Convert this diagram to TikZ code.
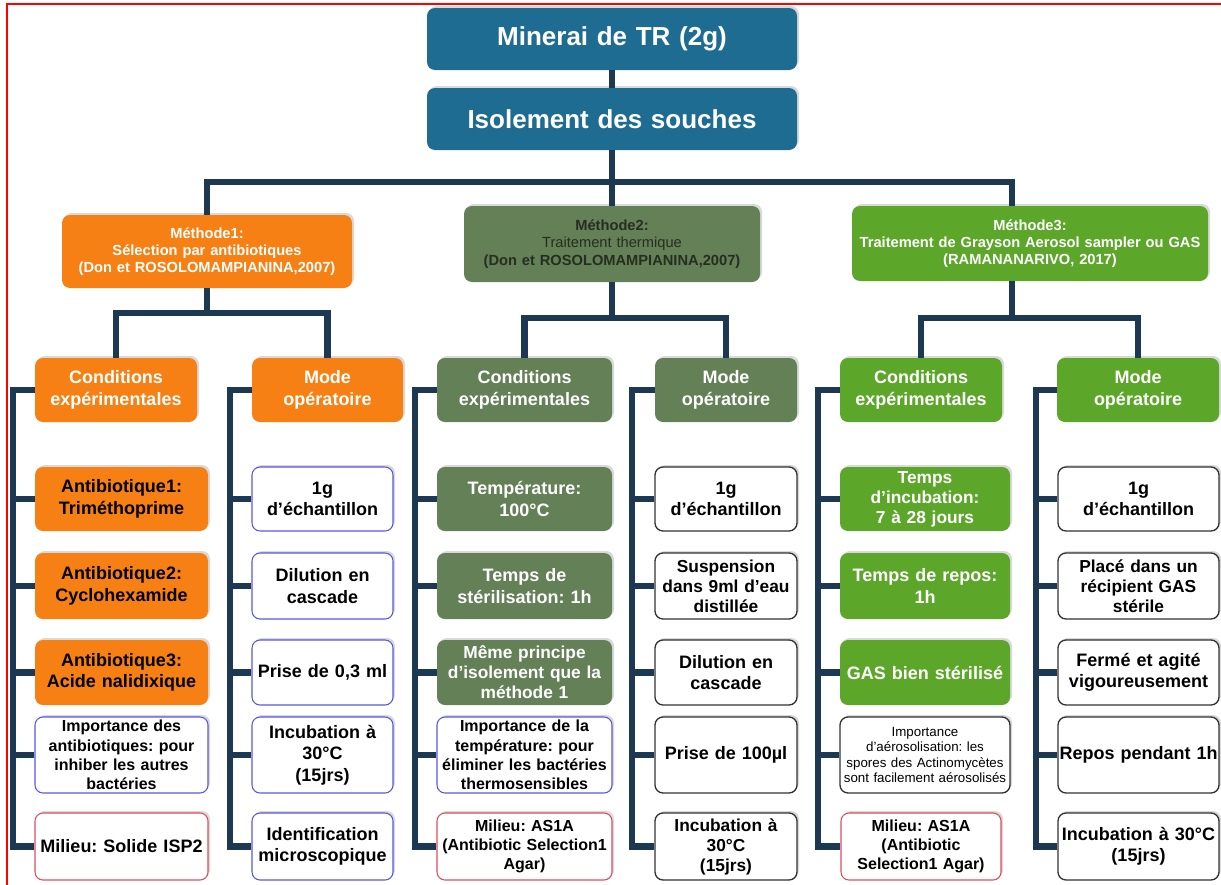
\documentclass[tikz,border=0pt]{standalone}
\usepackage{fontspec}
\setmainfont{Liberation Sans}
\usetikzlibrary{shadows}
\frenchspacing

\definecolor{trblue}{RGB}{31,108,146}
\definecolor{methorange}{RGB}{246,128,20}
\definecolor{sage}{RGB}{99,128,86}
\definecolor{leaf}{RGB}{92,166,42}
\definecolor{navy}{RGB}{29,56,82}
\definecolor{lineblue}{RGB}{88,88,228}
\definecolor{linered}{RGB}{222,78,92}
\definecolor{linegray}{RGB}{50,50,50}
\definecolor{darktext}{RGB}{38,46,34}

\begin{document}
\begin{tikzpicture}[x=0.75pt,y=0.75pt,yscale=-1,xscale=1,
  conn/.style={draw=navy,line width=5pt},
  cell/.style={rounded corners=6pt,align=center,inner xsep=1pt,inner ysep=1pt,
    minimum height=48pt,font=\fontsize{13.5}{16}\selectfont\bfseries,
    drop shadow={opacity=0.3,shadow xshift=1.5pt,shadow yshift=1.5pt}},
  titlebox/.style={cell,fill=trblue,text=white,text width=275.5pt,minimum height=46.5pt,
    font=\fontsize{19.5}{23}\selectfont\bfseries},
  methfont/.style={font=\fontsize{11}{13}\selectfont\bfseries},
  smallfont/.style={font=\fontsize{12}{14.5}\selectfont\bfseries},
  orgbox/.style={cell,fill=methorange},
  sagebox/.style={cell,fill=sage,text=white},
  leafbox/.style={cell,fill=leaf,text=white},
  bluebox/.style={cell,fill=white,draw=lineblue,line width=0.8pt},
  redbox/.style={cell,fill=white,draw=linered,line width=0.8pt},
  graybox/.style={cell,fill=white,draw=linegray,line width=1pt},
  ra/.style={minimum height=48pt},
  rb/.style={minimum height=49.5pt},
  rc/.style={minimum height=48.75pt},
  rd/.style={minimum height=57pt},
  re/.style={minimum height=50.25pt}
]
\useasboundingbox (0,0) rectangle (1221,885);

%Straight Lines: frame
\draw [red,line width=1.5pt] (7,885) -- (7,4) -- (1221,4) ;

% Text Node
\node [titlebox] (ore) at (612,39) {Minerai de TR (2g)};
% Text Node
\node [titlebox] (iso) at (612,119) {Isolement des souches};

% Text Node
\node [orgbox,methfont,text=white,text width=215.5pt,minimum height=54.75pt] (m1) at (207,251.5)
  {Méthode1:\\Sélection par antibiotiques\\(Don et ROSOLOMAMPIANINA,2007)};
% Text Node
\node [sagebox,methfont,text=darktext,text width=220pt,minimum height=57pt] (m2) at (612,244)
  {Méthode2:\\{\mdseries Traitement thermique}\\(Don et ROSOLOMAMPIANINA,2007)};
% Text Node
\node [leafbox,methfont,text width=265pt,minimum height=56.25pt] (m3) at (1030,243.5)
  {Méthode3:\\Traitement de Grayson Aerosol sampler ou GAS\\(RAMANANARIVO, 2017)};

% Text Node
\node [orgbox,text=white,text width=119.5pt] (c1) at (116,390) {Conditions\\expérimentales};
\node [orgbox,text=white,text width=111.25pt] (o1) at (327.5,390) {Mode\\opératoire};
\node [sagebox,text width=129.25pt] (c2) at (524.5,390) {Conditions\\expérimentales};
\node [sagebox,text width=104.5pt] (o2) at (726,390) {Mode\\opératoire};
\node [leafbox,text width=119.5pt] (c3) at (921,390) {Conditions\\expérimentales};
\node [leafbox,text width=119.5pt] (o3) at (1138,390) {Mode\\opératoire};

% Text Node: methode 1
\node [orgbox,ra,text width=127.75pt] (c1a) at (121.5,499) {Antibiotique1:\\Triméthoprime};
\node [orgbox,rb,text width=127.75pt] (c1b) at (121.5,586) {Antibiotique2:\\Cyclohexamide};
\node [orgbox,rc,text width=127.75pt] (c1c) at (121.5,672.5) {Antibiotique3:\\Acide nalidixique};
\node [bluebox,rd,smallfont,text width=127.75pt] (c1d) at (121.5,755)
  {Importance des\\antibiotiques: pour\\inhiber les autres\\bactéries};
\node [redbox,re,text width=127.75pt] (c1e) at (121.5,846.5) {Milieu: Solide ISP2};

\node [bluebox,ra,text width=103.75pt] (o1a) at (322.5,499) {1g\\d'échantillon};
\node [bluebox,rb,text width=103.75pt] (o1b) at (322.5,586) {Dilution en\\cascade};
\node [bluebox,rc,text width=103.75pt] (o1c) at (322.5,672.5) {Prise de 0,3 ml};
\node [bluebox,rd,text width=103.75pt] (o1d) at (322.5,755) {Incubation à\\30°C\\(15jrs)};
\node [bluebox,re,text width=103.75pt] (o1e) at (322.5,846.5) {Identification\\microscopique};

% Text Node: methode 2
\node [sagebox,ra,text width=129.25pt] (c2a) at (524.5,499) {Température:\\100°C};
\node [sagebox,rb,text width=129.25pt] (c2b) at (524.5,586) {Temps de\\stérilisation: 1h};
\node [sagebox,rc,font=\fontsize{13}{15}\selectfont\bfseries,text width=129.25pt] (c2c) at (524.5,672.5)
  {Même principe\\d'isolement que la\\méthode 1};
\node [bluebox,rd,smallfont,text width=129.25pt] (c2d) at (524.5,755)
  {Importance de la\\température: pour\\éliminer les bactéries\\thermosensibles};
\node [redbox,re,smallfont,text width=129.25pt] (c2e) at (524.5,846.5)
  {Milieu: AS1A\\(Antibiotic Selection1\\Agar)};

\node [graybox,ra,text width=104.5pt] (o2a) at (726,499) {1g\\d'échantillon};
\node [graybox,rb,font=\fontsize{13}{15}\selectfont\bfseries,text width=104.5pt] (o2b) at (726,586)
  {Suspension\\dans 9ml d'eau\\distillée};
\node [graybox,rc,text width=104.5pt] (o2c) at (726,672.5) {Dilution en\\cascade};
\node [graybox,rd,text width=104.5pt] (o2d) at (726,755) {Prise de 100µl};
\node [graybox,re,font=\fontsize{13}{15}\selectfont\bfseries,text width=104.5pt] (o2e) at (726,846.5)
  {Incubation à\\30°C\\(15jrs)};

% Text Node: methode 3
\node [leafbox,ra,font=\fontsize{13}{15}\selectfont\bfseries,text width=125.5pt] (c3a) at (925,499)
  {Temps\\d'incubation:\\7 à 28 jours};
\node [leafbox,rb,text width=125.5pt] (c3b) at (925,586) {Temps de repos:\\1h};
\node [leafbox,rc,text width=125.5pt] (c3c) at (925,672.5) {GAS bien stérilisé};
\node [graybox,rd,font=\fontsize{10}{11.5}\selectfont,text width=125.5pt] (c3d) at (925,755)
  {Importance\\d'aérosolisation: les\\spores des Actinomycètes\\sont facilement aérosolisés};
\node [redbox,re,smallfont,text width=118pt] (c3e) at (921,846.5)
  {Milieu: AS1A\\(Antibiotic\\Selection1 Agar)};

\node [graybox,ra,text width=118.75pt] (o3a) at (1138.5,499) {1g\\d'échantillon};
\node [graybox,rb,font=\fontsize{13}{15}\selectfont\bfseries,text width=118.75pt] (o3b) at (1138.5,586)
  {Placé dans un\\récipient GAS\\stérile};
\node [graybox,rc,text width=118.75pt] (o3c) at (1138.5,672.5) {Fermé et agité\\vigoureusement};
\node [graybox,rd,text width=118.75pt] (o3d) at (1138.5,755) {Repos pendant 1h};
\node [graybox,re,text width=118.75pt] (o3e) at (1138.5,846.5) {Incubation à 30°C\\(15jrs)};

%Straight Lines: tree
\coordinate (jt) at (612,182);
\coordinate (j1) at (207,313);
\coordinate (j2) at (612,318);
\coordinate (j3) at (1012,318);
\draw [conn] (ore) -- (iso) ;
\draw [conn] (iso) -- (jt) ;
\draw [conn] (m1.north) |- (jt) -| ([xshift=-13.5pt]m3.north) ;
\draw [conn] (jt) -- (m2.north) ;
\draw [conn] (m1.south) -- (j1) ;
\draw [conn] (c1.north) |- (j1) -| (o1.north) ;
\draw [conn] (m2.south) -- (j2) ;
\draw [conn] (c2.north) |- (j2) -| (o2.north) ;
\draw [conn] ([xshift=-13.5pt]m3.south) -- (j3) ;
\draw [conn] (c3.north) |- (j3) -| (o3.north) ;

%Straight Lines: buses
\foreach \col/\bx in {c1/13,o1/230,c2/415,o2/632,c3/818,o3/1036}{
  \coordinate (\col bus) at (\bx,846.5);
  \draw [conn] (\col.west) -| (\col bus) -- (\col e.west) ;
  \foreach \r in {a,b,c,d}
    \draw [conn] (\col\r.west) -- (\col\r.west -| \col bus) ;
}

\end{tikzpicture}
\end{document}
